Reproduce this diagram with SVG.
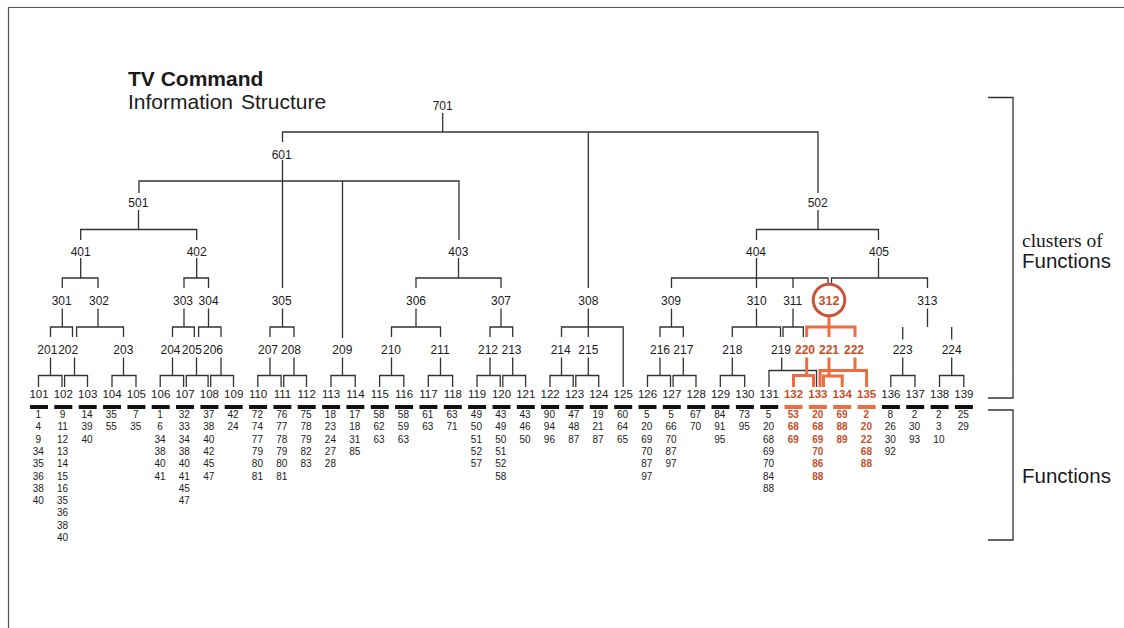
<svg xmlns="http://www.w3.org/2000/svg" width="1124" height="628" viewBox="0 0 1124 628">
<style>
text{font-family:"Liberation Sans",Arial,sans-serif;fill:#1a1a1a}
.lv{font-size:12px;text-anchor:middle}
.lf{font-size:11.5px;text-anchor:middle}
.fn{font-size:10px;text-anchor:middle}
.hi{fill:#c4502a;font-weight:bold}
.ln{fill:none;stroke:#333;stroke-width:1.3}
.ol{fill:none;stroke:#f26b3d;stroke-width:3}
.bar{fill:#111}
.obar{fill:#f26b3d}
</style>
<rect width="1124" height="628" fill="#fff"/>
<path d="M8.5 628V7.5H1124" fill="none" stroke="#555" stroke-width="1.2"/>
<g id="title">
<text x="128" y="86" style="font-size:21px;font-weight:bold">TV Command</text>
<text x="128" y="109" style="font-size:21px;word-spacing:2px">Information Structure</text>
</g>
<g id="connectors">
<path class="ln" d="M442.7 113V132 M282.5 142V132H818V193 M588.3 132V288
M282.5 160V288 M139 193V181H459V240 M342.5 181V338
M138.5 210V229.5 M80.7 240V229.5H196.7V240
M818 210V229.5 M756.5 240V229.5H878.5V240
M80.7 258V278 M62.3 288V278H98V288
M196.7 258V278 M184 288V278H208.5V288
M458.5 258V278 M416 288V278H501V288
M756.5 258V288 M671.5 288V278H828V284 M793 278V288
M878.5 258V278 M831.5 284V278H927.5V288
M62.3 308.5V327 M50.5 337V327H72.5V337
M98 308.5V327 M76.6 337V327H123.5V337
M184 308.5V327 M172.5 337V327H194.3V337
M208.5 308.5V327 M198.6 337V327H221V337
M282.5 308.5V327 M270 337V327H294V337
M416 308.5V327 M391.5 337V327H440.5V337
M501 308.5V327 M490 337V327H512.7V337
M588.3 308.5V337 M561.5 337V327H623.2V387
M671.5 308.5V327 M660 337V327H683.3V337
M756.5 308.5V327 M732.3 337V327H780.5V337
M793 308.5V327 M783 337V327H803.3V337
M927.5 308.5V327 M902.7 327V339.5 M951.7 327V339.5
M50.5 357.5V375.5 M38.5 387V375.5H62V387
M74.5 357.5V375.5 M64.6 387V375.5H87.5V387
M123.5 357.5V375.5 M112 387V375.5H136V387
M172.5 357.5V375.5 M160.2 387V375.5H183.6V387
M196.5 357.5V375.5 M186.3 387V375.5H208.1V387
M221 357.5V375.5 M210.7 387V375.5H233.5V387
M270 357.5V375.5 M257.8 387V375.5H281.1V387
M294 357.5V375.5 M283.7 387V375.5H306.5V387
M342.5 357.5V375.5 M331 387V375.5H355.2V387
M391.5 357.5V375.5 M379.6 387V375.5H403.8V387
M440.5 357.5V375.5 M428.3 387V375.5H452.6V387
M490 357.5V375.5 M477 387V375.5H500.2V387
M512.7 357.5V375.5 M502.8 387V375.5H525.6V387
M561.5 357.5V375.5 M550 387V375.5H573.2V387
M588.3 357.5V375.5 M575.8 387V375.5H598.7V387
M660 357.5V375.5 M647.5 387V375.5H670.5V387
M683.3 357.5V375.5 M673.1 387V375.5H696V387
M732.3 357.5V375.5 M720.3 387V375.5H744.7V387
M781.7 357.5V370.5 M769 387V370.5H816.5V387
M902.7 357.5V375.5 M890.8 387V375.5H915V387
M951.7 357.5V375.5 M939.5 387V375.5H963.8V387
M988 97.5H1013V398H988 M988 410H1013V540H988"/>
<path class="ol" d="M829 316V327 M806.7 337V327H855V337 M829 327V337
M806.7 357.5V375.5 M793.5 387V375.5H813.5V387
M855 357.5V370.5 M820 387V370.5H866.6V387
M829 357.5V376 M823.5 387V376H842.2V387"/>
</g>
<g id="n701"><text class="lv" x="442.7" y="110">701</text></g>
<g id="n601"><text class="lv" x="281.7" y="159">601</text></g>
<g id="n501"><text class="lv" x="138.3" y="207">501</text></g>
<g id="n502"><text class="lv" x="817.7" y="207">502</text></g>
<g id="n401"><text class="lv" x="80.7" y="255.5">401</text></g>
<g id="n402"><text class="lv" x="196.7" y="255.5">402</text></g>
<g id="n403"><text class="lv" x="458.3" y="255.5">403</text></g>
<g id="n404"><text class="lv" x="756" y="255.5">404</text></g>
<g id="n405"><text class="lv" x="879" y="255.5">405</text></g>
<g id="n301"><text class="lv" x="61.7" y="305">301</text></g>
<g id="n302"><text class="lv" x="99" y="305">302</text></g>
<g id="n303"><text class="lv" x="183" y="305">303</text></g>
<g id="n304"><text class="lv" x="208.6" y="305">304</text></g>
<g id="n305"><text class="lv" x="281.7" y="305">305</text></g>
<g id="n306"><text class="lv" x="416" y="305">306</text></g>
<g id="n307"><text class="lv" x="501" y="305">307</text></g>
<g id="n308"><text class="lv" x="588.3" y="305">308</text></g>
<g id="n309"><text class="lv" x="671" y="305">309</text></g>
<g id="n310"><text class="lv" x="756.7" y="305">310</text></g>
<g id="n311"><text class="lv" x="792.7" y="305">311</text></g>
<g id="n312"><circle cx="829" cy="300" r="15.8" fill="none" stroke="#c8553a" stroke-width="3"/><text class="lv hi" x="829" y="305" style="font-size:12.5px">312</text></g>
<g id="n313"><text class="lv" x="927.3" y="305">313</text></g>
<g id="n201"><text class="lv" x="47.3" y="354">201</text></g>
<g id="n202"><text class="lv" x="68.2" y="354">202</text></g>
<g id="n203"><text class="lv" x="123.3" y="354">203</text></g>
<g id="n204"><text class="lv" x="170.5" y="354">204</text></g>
<g id="n205"><text class="lv" x="191.8" y="354">205</text></g>
<g id="n206"><text class="lv" x="213" y="354">206</text></g>
<g id="n207"><text class="lv" x="268" y="354">207</text></g>
<g id="n208"><text class="lv" x="291" y="354">208</text></g>
<g id="n209"><text class="lv" x="342.3" y="354">209</text></g>
<g id="n210"><text class="lv" x="391" y="354">210</text></g>
<g id="n211"><text class="lv" x="440" y="354">211</text></g>
<g id="n212"><text class="lv" x="488" y="354">212</text></g>
<g id="n213"><text class="lv" x="511.5" y="354">213</text></g>
<g id="n214"><text class="lv" x="560.7" y="354">214</text></g>
<g id="n215"><text class="lv" x="588.3" y="354">215</text></g>
<g id="n216"><text class="lv" x="660" y="354">216</text></g>
<g id="n217"><text class="lv" x="683.3" y="354">217</text></g>
<g id="n218"><text class="lv" x="732.3" y="354">218</text></g>
<g id="n219"><text class="lv" x="781" y="354">219</text></g>
<g id="n220"><text class="lv hi" x="805" y="354">220</text></g>
<g id="n221"><text class="lv hi" x="829" y="354">221</text></g>
<g id="n222"><text class="lv hi" x="854" y="354">222</text></g>
<g id="n223"><text class="lv" x="902.7" y="354">223</text></g>
<g id="n224"><text class="lv" x="951.7" y="354">224</text></g>
<g id="n101"><text class="lf" x="39" y="398">101</text><rect class="bar" x="30" y="405" width="18" height="4"/><text class="fn" y="418"><tspan x="38.3">1</tspan><tspan x="38.3" dy="12.3">4</tspan><tspan x="38.3" dy="12.3">9</tspan><tspan x="38.3" dy="12.3">34</tspan><tspan x="38.3" dy="12.3">35</tspan><tspan x="38.3" dy="12.3">36</tspan><tspan x="38.3" dy="12.3">38</tspan><tspan x="38.3" dy="12.3">40</tspan></text></g>
<g id="n102"><text class="lf" x="63.3" y="398">102</text><rect class="bar" x="54.3" y="405" width="18" height="4"/><text class="fn" y="418"><tspan x="62.6">9</tspan><tspan x="62.6" dy="12.3">11</tspan><tspan x="62.6" dy="12.3">12</tspan><tspan x="62.6" dy="12.3">13</tspan><tspan x="62.6" dy="12.3">14</tspan><tspan x="62.6" dy="12.3">15</tspan><tspan x="62.6" dy="12.3">16</tspan><tspan x="62.6" dy="12.3">35</tspan><tspan x="62.6" dy="12.3">36</tspan><tspan x="62.6" dy="12.3">38</tspan><tspan x="62.6" dy="12.3">40</tspan></text></g>
<g id="n103"><text class="lf" x="87.7" y="398">103</text><rect class="bar" x="78.7" y="405" width="18" height="4"/><text class="fn" y="418"><tspan x="87">14</tspan><tspan x="87" dy="12.3">39</tspan><tspan x="87" dy="12.3">40</tspan></text></g>
<g id="n104"><text class="lf" x="112" y="398">104</text><rect class="bar" x="103" y="405" width="18" height="4"/><text class="fn" y="418"><tspan x="111.3">35</tspan><tspan x="111.3" dy="12.3">55</tspan></text></g>
<g id="n105"><text class="lf" x="136.4" y="398">105</text><rect class="bar" x="127.4" y="405" width="18" height="4"/><text class="fn" y="418"><tspan x="135.7">7</tspan><tspan x="135.7" dy="12.3">35</tspan></text></g>
<g id="n106"><text class="lf" x="160.7" y="398">106</text><rect class="bar" x="151.7" y="405" width="18" height="4"/><text class="fn" y="418"><tspan x="160">1</tspan><tspan x="160" dy="12.3">6</tspan><tspan x="160" dy="12.3">34</tspan><tspan x="160" dy="12.3">38</tspan><tspan x="160" dy="12.3">40</tspan><tspan x="160" dy="12.3">41</tspan></text></g>
<g id="n107"><text class="lf" x="185" y="398">107</text><rect class="bar" x="176" y="405" width="18" height="4"/><text class="fn" y="418"><tspan x="184.3">32</tspan><tspan x="184.3" dy="12.3">33</tspan><tspan x="184.3" dy="12.3">34</tspan><tspan x="184.3" dy="12.3">38</tspan><tspan x="184.3" dy="12.3">40</tspan><tspan x="184.3" dy="12.3">41</tspan><tspan x="184.3" dy="12.3">45</tspan><tspan x="184.3" dy="12.3">47</tspan></text></g>
<g id="n108"><text class="lf" x="209.4" y="398">108</text><rect class="bar" x="200.4" y="405" width="18" height="4"/><text class="fn" y="418"><tspan x="208.7">37</tspan><tspan x="208.7" dy="12.3">38</tspan><tspan x="208.7" dy="12.3">40</tspan><tspan x="208.7" dy="12.3">42</tspan><tspan x="208.7" dy="12.3">45</tspan><tspan x="208.7" dy="12.3">47</tspan></text></g>
<g id="n109"><text class="lf" x="233.7" y="398">109</text><rect class="bar" x="224.7" y="405" width="18" height="4"/><text class="fn" y="418"><tspan x="233">42</tspan><tspan x="233" dy="12.3">24</tspan></text></g>
<g id="n110"><text class="lf" x="258.1" y="398">110</text><rect class="bar" x="249.1" y="405" width="18" height="4"/><text class="fn" y="418"><tspan x="257.4">72</tspan><tspan x="257.4" dy="12.3">74</tspan><tspan x="257.4" dy="12.3">77</tspan><tspan x="257.4" dy="12.3">79</tspan><tspan x="257.4" dy="12.3">80</tspan><tspan x="257.4" dy="12.3">81</tspan></text></g>
<g id="n111"><text class="lf" x="282.4" y="398">111</text><rect class="bar" x="273.4" y="405" width="18" height="4"/><text class="fn" y="418"><tspan x="281.7">76</tspan><tspan x="281.7" dy="12.3">77</tspan><tspan x="281.7" dy="12.3">78</tspan><tspan x="281.7" dy="12.3">79</tspan><tspan x="281.7" dy="12.3">80</tspan><tspan x="281.7" dy="12.3">81</tspan></text></g>
<g id="n112"><text class="lf" x="306.7" y="398">112</text><rect class="bar" x="297.7" y="405" width="18" height="4"/><text class="fn" y="418"><tspan x="306">75</tspan><tspan x="306" dy="12.3">78</tspan><tspan x="306" dy="12.3">79</tspan><tspan x="306" dy="12.3">82</tspan><tspan x="306" dy="12.3">83</tspan></text></g>
<g id="n113"><text class="lf" x="331.1" y="398">113</text><rect class="bar" x="322.1" y="405" width="18" height="4"/><text class="fn" y="418"><tspan x="330.4">18</tspan><tspan x="330.4" dy="12.3">23</tspan><tspan x="330.4" dy="12.3">24</tspan><tspan x="330.4" dy="12.3">27</tspan><tspan x="330.4" dy="12.3">28</tspan></text></g>
<g id="n114"><text class="lf" x="355.4" y="398">114</text><rect class="bar" x="346.4" y="405" width="18" height="4"/><text class="fn" y="418"><tspan x="354.7">17</tspan><tspan x="354.7" dy="12.3">18</tspan><tspan x="354.7" dy="12.3">31</tspan><tspan x="354.7" dy="12.3">85</tspan></text></g>
<g id="n115"><text class="lf" x="379.8" y="398">115</text><rect class="bar" x="370.8" y="405" width="18" height="4"/><text class="fn" y="418"><tspan x="379.1">58</tspan><tspan x="379.1" dy="12.3">62</tspan><tspan x="379.1" dy="12.3">63</tspan></text></g>
<g id="n116"><text class="lf" x="404.1" y="398">116</text><rect class="bar" x="395.1" y="405" width="18" height="4"/><text class="fn" y="418"><tspan x="403.4">58</tspan><tspan x="403.4" dy="12.3">59</tspan><tspan x="403.4" dy="12.3">63</tspan></text></g>
<g id="n117"><text class="lf" x="428.4" y="398">117</text><rect class="bar" x="419.4" y="405" width="18" height="4"/><text class="fn" y="418"><tspan x="427.7">61</tspan><tspan x="427.7" dy="12.3">63</tspan></text></g>
<g id="n118"><text class="lf" x="452.8" y="398">118</text><rect class="bar" x="443.8" y="405" width="18" height="4"/><text class="fn" y="418"><tspan x="452.1">63</tspan><tspan x="452.1" dy="12.3">71</tspan></text></g>
<g id="n119"><text class="lf" x="477.1" y="398">119</text><rect class="bar" x="468.1" y="405" width="18" height="4"/><text class="fn" y="418"><tspan x="476.4">49</tspan><tspan x="476.4" dy="12.3">50</tspan><tspan x="476.4" dy="12.3">51</tspan><tspan x="476.4" dy="12.3">52</tspan><tspan x="476.4" dy="12.3">57</tspan></text></g>
<g id="n120"><text class="lf" x="501.5" y="398">120</text><rect class="bar" x="492.5" y="405" width="18" height="4"/><text class="fn" y="418"><tspan x="500.8">43</tspan><tspan x="500.8" dy="12.3">49</tspan><tspan x="500.8" dy="12.3">50</tspan><tspan x="500.8" dy="12.3">51</tspan><tspan x="500.8" dy="12.3">52</tspan><tspan x="500.8" dy="12.3">58</tspan></text></g>
<g id="n121"><text class="lf" x="525.8" y="398">121</text><rect class="bar" x="516.8" y="405" width="18" height="4"/><text class="fn" y="418"><tspan x="525.1">43</tspan><tspan x="525.1" dy="12.3">46</tspan><tspan x="525.1" dy="12.3">50</tspan></text></g>
<g id="n122"><text class="lf" x="550.1" y="398">122</text><rect class="bar" x="541.1" y="405" width="18" height="4"/><text class="fn" y="418"><tspan x="549.4">90</tspan><tspan x="549.4" dy="12.3">94</tspan><tspan x="549.4" dy="12.3">96</tspan></text></g>
<g id="n123"><text class="lf" x="574.5" y="398">123</text><rect class="bar" x="565.5" y="405" width="18" height="4"/><text class="fn" y="418"><tspan x="573.8">47</tspan><tspan x="573.8" dy="12.3">48</tspan><tspan x="573.8" dy="12.3">87</tspan></text></g>
<g id="n124"><text class="lf" x="598.8" y="398">124</text><rect class="bar" x="589.8" y="405" width="18" height="4"/><text class="fn" y="418"><tspan x="598.1">19</tspan><tspan x="598.1" dy="12.3">21</tspan><tspan x="598.1" dy="12.3">87</tspan></text></g>
<g id="n125"><text class="lf" x="623.2" y="398">125</text><rect class="bar" x="614.2" y="405" width="18" height="4"/><text class="fn" y="418"><tspan x="622.5">60</tspan><tspan x="622.5" dy="12.3">64</tspan><tspan x="622.5" dy="12.3">65</tspan></text></g>
<g id="n126"><text class="lf" x="647.5" y="398">126</text><rect class="bar" x="638.5" y="405" width="18" height="4"/><text class="fn" y="418"><tspan x="646.8">5</tspan><tspan x="646.8" dy="12.3">20</tspan><tspan x="646.8" dy="12.3">69</tspan><tspan x="646.8" dy="12.3">70</tspan><tspan x="646.8" dy="12.3">87</tspan><tspan x="646.8" dy="12.3">97</tspan></text></g>
<g id="n127"><text class="lf" x="671.8" y="398">127</text><rect class="bar" x="662.8" y="405" width="18" height="4"/><text class="fn" y="418"><tspan x="671.1">5</tspan><tspan x="671.1" dy="12.3">66</tspan><tspan x="671.1" dy="12.3">70</tspan><tspan x="671.1" dy="12.3">87</tspan><tspan x="671.1" dy="12.3">97</tspan></text></g>
<g id="n128"><text class="lf" x="696.2" y="398">128</text><rect class="bar" x="687.2" y="405" width="18" height="4"/><text class="fn" y="418"><tspan x="695.5">67</tspan><tspan x="695.5" dy="12.3">70</tspan></text></g>
<g id="n129"><text class="lf" x="720.5" y="398">129</text><rect class="bar" x="711.5" y="405" width="18" height="4"/><text class="fn" y="418"><tspan x="719.8">84</tspan><tspan x="719.8" dy="12.3">91</tspan><tspan x="719.8" dy="12.3">95</tspan></text></g>
<g id="n130"><text class="lf" x="744.9" y="398">130</text><rect class="bar" x="735.9" y="405" width="18" height="4"/><text class="fn" y="418"><tspan x="744.2">73</tspan><tspan x="744.2" dy="12.3">95</tspan></text></g>
<g id="n131"><text class="lf" x="769.2" y="398">131</text><rect class="bar" x="760.2" y="405" width="18" height="4"/><text class="fn" y="418"><tspan x="768.5">5</tspan><tspan x="768.5" dy="12.3">20</tspan><tspan x="768.5" dy="12.3">68</tspan><tspan x="768.5" dy="12.3">69</tspan><tspan x="768.5" dy="12.3">70</tspan><tspan x="768.5" dy="12.3">84</tspan><tspan x="768.5" dy="12.3">88</tspan></text></g>
<g id="n132"><text class="lf hi" x="793.5" y="398">132</text><rect class="obar" x="784.5" y="405" width="18" height="4"/><text class="fn hi" y="418"><tspan x="793.3">53</tspan><tspan x="793.3" dy="12.3">68</tspan><tspan x="793.3" dy="12.3">69</tspan></text></g>
<g id="n133"><text class="lf hi" x="817.9" y="398">133</text><rect class="obar" x="808.9" y="405" width="18" height="4"/><text class="fn hi" y="418"><tspan x="817.7">20</tspan><tspan x="817.7" dy="12.3">68</tspan><tspan x="817.7" dy="12.3">69</tspan><tspan x="817.7" dy="12.3">70</tspan><tspan x="817.7" dy="12.3">86</tspan><tspan x="817.7" dy="12.3">88</tspan></text></g>
<g id="n134"><text class="lf hi" x="842.2" y="398">134</text><rect class="obar" x="833.2" y="405" width="18" height="4"/><text class="fn hi" y="418"><tspan x="842">69</tspan><tspan x="842" dy="12.3">88</tspan><tspan x="842" dy="12.3">89</tspan></text></g>
<g id="n135"><text class="lf hi" x="866.6" y="398">135</text><rect class="obar" x="857.6" y="405" width="18" height="4"/><text class="fn hi" y="418"><tspan x="866.4">2</tspan><tspan x="866.4" dy="12.3">20</tspan><tspan x="866.4" dy="12.3">22</tspan><tspan x="866.4" dy="12.3">68</tspan><tspan x="866.4" dy="12.3">88</tspan></text></g>
<g id="n136"><text class="lf" x="890.9" y="398">136</text><rect class="bar" x="881.9" y="405" width="18" height="4"/><text class="fn" y="418"><tspan x="890.2">8</tspan><tspan x="890.2" dy="12.3">26</tspan><tspan x="890.2" dy="12.3">30</tspan><tspan x="890.2" dy="12.3">92</tspan></text></g>
<g id="n137"><text class="lf" x="915.2" y="398">137</text><rect class="bar" x="906.2" y="405" width="18" height="4"/><text class="fn" y="418"><tspan x="914.5">2</tspan><tspan x="914.5" dy="12.3">30</tspan><tspan x="914.5" dy="12.3">93</tspan></text></g>
<g id="n138"><text class="lf" x="939.6" y="398">138</text><rect class="bar" x="930.6" y="405" width="18" height="4"/><text class="fn" y="418"><tspan x="938.9">2</tspan><tspan x="938.9" dy="12.3">3</tspan><tspan x="938.9" dy="12.3">10</tspan></text></g>
<g id="n139"><text class="lf" x="963.9" y="398">139</text><rect class="bar" x="954.9" y="405" width="18" height="4"/><text class="fn" y="418"><tspan x="963.2">25</tspan><tspan x="963.2" dy="12.3">29</tspan></text></g>
<g id="legend">
<text x="1022" y="247" style="font-family:'Liberation Serif','Times New Roman',serif;font-size:19.5px">clusters of</text>
<text x="1022" y="268" style="font-size:20.5px">Functions</text>
<text x="1022" y="483" style="font-size:20.5px">Functions</text>
</g>
</svg>
